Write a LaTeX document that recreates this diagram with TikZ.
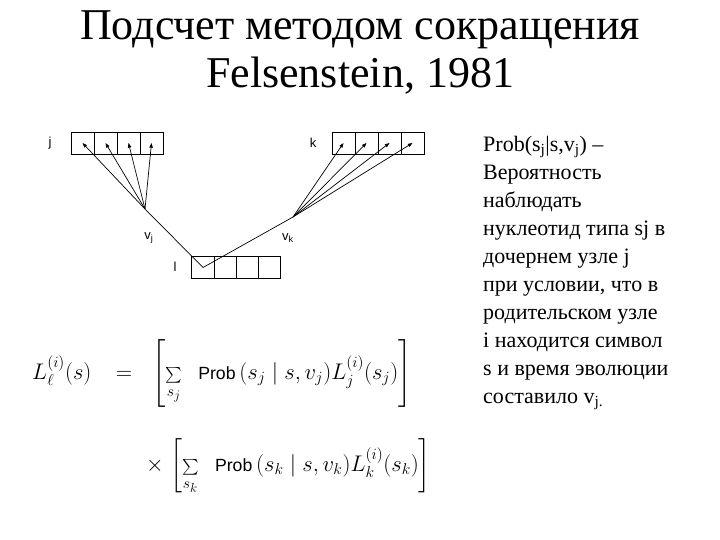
\documentclass[tikz,border=0pt]{standalone}
\usepackage[no-math]{fontspec}
\setmainfont{Liberation Serif}
\setsansfont{Liberation Sans}
\usepackage{amsmath}
\usetikzlibrary{arrows.meta}
\usetikzlibrary{positioning}

\newcommand{\probword}{\text{\sffamily\fontsize{16.2}{19}\selectfont Prob}}
\newcommand{\smallsum}{\mathop{\scriptstyle\sum}\limits}

\tikzset{
  cell/.style={draw, line width=0.8pt, minimum width=23pt, minimum height=22pt, inner sep=0pt},
  toleaf/.style={arrows = -{Triangle[angle=40:5pt]}, line width=0.7pt},
  lbl/.style={font=\sffamily\fontsize{13}{15}\selectfont, inner sep=0pt},
  eq/.style={font=\fontsize{20.74}{25}\selectfont, inner sep=0pt, anchor=base west, scale=1.09, transform shape}
}

\begin{document}
\begin{tikzpicture}[x=1pt,y=-1pt]

            \useasboundingbox (0,0) rectangle (720,540);

            % title
            \path   (360,40) node (title) [anchor=base, font=\fontsize{44}{50}\selectfont] {Подсчет методом сокращения}
                    (360,88) node (year)  [anchor=base, font=\fontsize{44}{50}\selectfont] {Felsenstein, 1981};

            % sequences at the leaves j, k and at the parent l
            \path   (82.5,143)  node (j1) [cell] {}
                    (105.5,143) node (j2) [cell] {}
                    (128.5,143) node (j3) [cell] {}
                    (151.5,143) node (j4) [cell] {}
                    (343.5,143) node (k1) [cell] {}
                    (366.5,143) node (k2) [cell] {}
                    (389.5,143) node (k3) [cell] {}
                    (412.5,143) node (k4) [cell] {}
                    (203,267.5) node (l1) [cell, minimum width=22.25pt] {}
                    (225.25,267.5) node (l2) [cell, minimum width=22.25pt] {}
                    (247.5,267.5) node (l3) [cell, minimum width=22.25pt] {}
                    (269.75,267.5) node (l4) [cell, minimum width=22.25pt] {};

            \path   (50,143)  node (jname) [lbl] {j}
                    (313,143) node (kname) [lbl] {k}
                    (175,267) node (lname) [lbl] {l};

            \coordinate (vj) at (145,209);
            \coordinate (vk) at (293,217);

            \draw[line width=0.7pt] (vj) -- (l1.center) -- (vk);

            \draw[toleaf] (vj) -- (j1.center);
            \draw[toleaf] (vj) -- (j2.center);
            \draw[toleaf] (vj) -- (j3.center);
            \draw[toleaf] (vj) -- (j4.center);
            \draw[toleaf] (vk) -- (k1.center);
            \draw[toleaf] (vk) -- (k2.center);
            \draw[toleaf] (vk) -- (k3.center);
            \draw[toleaf] (vk) -- (k4.center);

            \path   (149,238) node (vjname) [lbl] {v\textsubscript{j}}
                    (288,238) node (vkname) [lbl] {v\textsubscript{k}};

            % pruning formula
            \path   (32,379)  node (lhs)  [eq] {$L_\ell^{(i)}(s)$}
                    (124,379) node (equal) [eq, anchor=base] {$=$}
                    (152,379) node (sumj) [eq] {$\left[\smallsum_{s_j}\;\;\probword\,(s_j\mid s,v_j)L_j^{(i)}(s_j)\right]$}
                    (155,471) node (times) [eq, anchor=base] {$\times$}
                    (170,471) node (sumk) [eq] {$\left[\smallsum_{s_k}\;\;\probword\,(s_k\mid s,v_k)L_k^{(i)}(s_k)\right]$};

            % explanation
            \path   (483,403) node (note) [anchor=base west, align=left, inner sep=0pt, font=\fontsize{22}{28}\selectfont]
            {
            Prob(s\textsubscript{j}|s,v\textsubscript{j}) –\\
            Вероятность\\
            наблюдать\\
            нуклеотид типа sj в\\
            дочернем узле j\\
            при условии, что в\\
            родительском узле\\
            i находится символ\\
            s и время эволюции\\
            составило v\textsubscript{j.}
            };

\end{tikzpicture}
\end{document}
